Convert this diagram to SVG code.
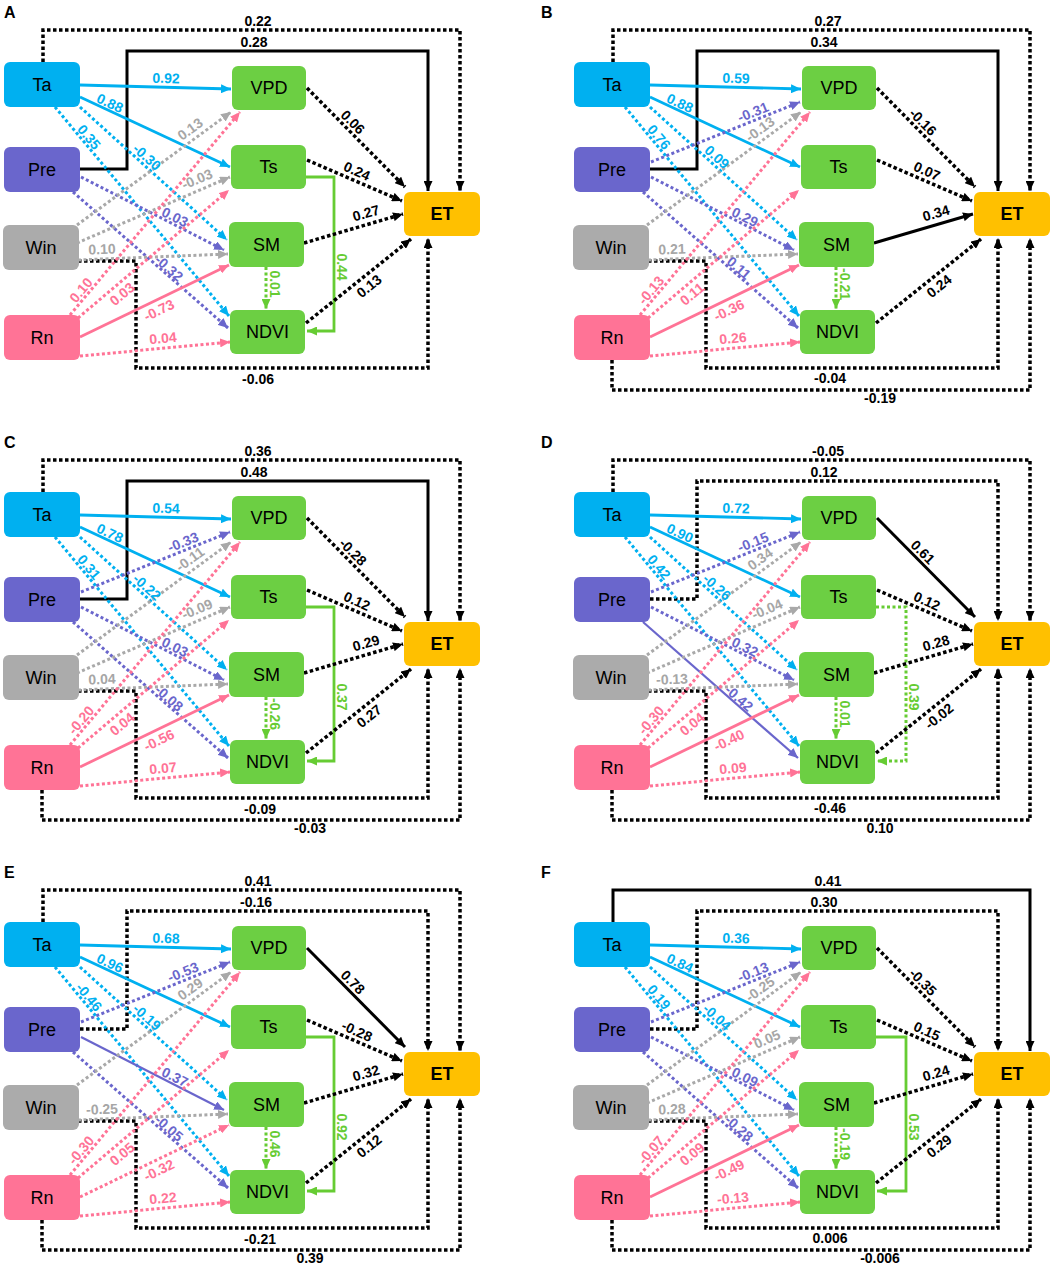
<svg xmlns="http://www.w3.org/2000/svg" width="1052" height="1265" viewBox="0 0 1052 1265">
<defs>
<style>
.nt{font-family:"Liberation Sans",Arial,sans-serif;font-size:18px;text-anchor:middle;fill:#000}
.et{font-weight:bold}
.ta{fill:#00B0F0}.pr{fill:#6A66CC}.wi{fill:#ABABAB}.rn{fill:#FF7396}.gn{fill:#6CCF43}.ev{fill:#FFC000}
.e{fill:none}
.cy{stroke:#00B0F0;marker-end:url(#mcy)}
.pu{stroke:#6A66CC;marker-end:url(#mpu)}
.gy{stroke:#A9A9A9;marker-end:url(#mgy)}
.pk{stroke:#FF7396;marker-end:url(#mpk)}
.gr{stroke:#66CC33;marker-end:url(#mgr)}
.bk{stroke:#000;marker-end:url(#mbk)}
.s{stroke-width:2.8}
.t2{stroke-width:2.2}
.d{stroke-width:3;stroke-dasharray:3 2.5}
.b{stroke-width:3.5;stroke-dasharray:3.5 2.5}
.sb{stroke-width:3}
.l{font-family:"Liberation Sans",Arial,sans-serif;font-weight:bold;font-size:14px;text-anchor:middle;dominant-baseline:central}
.lcy{fill:#00B0F0}.lpu{fill:#6A66CC}.lgy{fill:#A6A6A6}.lpk{fill:#FF7396}.lgr{fill:#66CC33}.lk{fill:#000}
.pl{font-family:"Liberation Sans",Arial,sans-serif;font-weight:bold;font-size:16px;fill:#000}
</style>
<marker id="mcy" markerUnits="userSpaceOnUse" markerWidth="11" markerHeight="9" refX="10" refY="4.5" orient="auto"><path d="M0,0L10,4.5L0,9z" fill="#00B0F0"/></marker>
<marker id="mpu" markerUnits="userSpaceOnUse" markerWidth="11" markerHeight="9" refX="10" refY="4.5" orient="auto"><path d="M0,0L10,4.5L0,9z" fill="#6A66CC"/></marker>
<marker id="mgy" markerUnits="userSpaceOnUse" markerWidth="11" markerHeight="9" refX="10" refY="4.5" orient="auto"><path d="M0,0L10,4.5L0,9z" fill="#A9A9A9"/></marker>
<marker id="mpk" markerUnits="userSpaceOnUse" markerWidth="11" markerHeight="9" refX="10" refY="4.5" orient="auto"><path d="M0,0L10,4.5L0,9z" fill="#FF7396"/></marker>
<marker id="mgr" markerUnits="userSpaceOnUse" markerWidth="11" markerHeight="9" refX="10" refY="4.5" orient="auto"><path d="M0,0L10,4.5L0,9z" fill="#66CC33"/></marker>
<marker id="mbk" markerUnits="userSpaceOnUse" markerWidth="11" markerHeight="9" refX="10" refY="4.5" orient="auto"><path d="M0,0L10,4.5L0,9z" fill="#000"/></marker>
</defs>
<rect width="1052" height="1265" fill="#fff"/>
<text class="pl" x="4" y="18">A</text>
<text class="pl" x="541" y="18">B</text>
<text class="pl" x="4" y="448">C</text>
<text class="pl" x="541" y="448">D</text>
<text class="pl" x="4" y="878">E</text>
<text class="pl" x="541" y="878">F</text>

<!-- PANEL A -->
<g id="panelA" transform="translate(0,0)">
<g id="A-connectors">
<path class="e bk b" d="M43,62L43,30L460,30L460,191"/>
<path class="e bk sb" d="M80,169L127,169L127,51L428,51L428,191"/>
<path class="e bk b" d="M78,261L136,261L136,368L428,368L428,238"/>
<path class="e cy s" d="M80,85L231,89"/>
<path class="e cy s" d="M80,97L230,167"/>
<path class="e cy d" d="M80,107L227,240"/>
<path class="e cy d" d="M55,107L229,316"/>
<path class="e pu d" d="M81,177L224,250"/>
<path class="e pu d" d="M73,192L228,328"/>
<path class="e gy d" d="M77,225L231,112"/>
<path class="e gy d" d="M77,243L230,177"/>
<path class="e gy d" d="M78,260L228,254"/>
<path class="e pk d" d="M70,315L240,112"/>
<path class="e pk d" d="M78,318L229,190"/>
<path class="e pk s" d="M80,337L229,265"/>
<path class="e pk d" d="M80,356L230,342"/>
<path class="e gr d" d="M266,267L266,309"/>
<path class="e gr s" d="M306,177L334,177L334,331L307,331"/>
<path class="e bk b" d="M307,88L405,187"/>
<path class="e bk b" d="M307,160L402,201"/>
<path class="e bk b" d="M304,243L403,214"/>
<path class="e bk b" d="M306,323L411,239"/>
<text class="l lcy" transform="translate(166,78) rotate(1.5)">0.92</text>
<text class="l lcy" transform="translate(110,103) rotate(25)">0.88</text>
<text class="l lcy" transform="translate(147,157) rotate(42)">-0.30</text>
<text class="l lcy" transform="translate(89,137) rotate(50)">0.35</text>
<text class="l lpu" transform="translate(175,217) rotate(27)">0.03</text>
<text class="l lpu" transform="translate(169,268) rotate(41)">-0.32</text>
<text class="l lgy" transform="translate(190,129) rotate(-36)">0.13</text>
<text class="l lgy" transform="translate(197,179) rotate(-23)">-0.03</text>
<text class="l lgy" transform="translate(102,249) rotate(-2)">0.10</text>
<text class="l lpk" transform="translate(81,290) rotate(-50)">0.10</text>
<text class="l lpk" transform="translate(122,294) rotate(-40)">0.03</text>
<text class="l lpk" transform="translate(159,310) rotate(-26)">-0.73</text>
<text class="l lpk" transform="translate(163,338) rotate(-5)">0.04</text>
<text class="l lgr" transform="translate(275,284) rotate(90)">0.01</text>
<text class="l lgr" transform="translate(342,267) rotate(90)">0.44</text>
<text class="l lk" transform="translate(353,122) rotate(45)">0.06</text>
<text class="l lk" transform="translate(357,171) rotate(24)">0.24</text>
<text class="l lk" transform="translate(366,213) rotate(-16)">0.27</text>
<text class="l lk" transform="translate(369,286) rotate(-39)">0.13</text>
<text class="l lk" transform="translate(258,21)">0.22</text>
<text class="l lk" transform="translate(254,42)">0.28</text>
<text class="l lk" transform="translate(258,379)">-0.06</text>
</g>
<g id="A-Ta"><rect class="ta" x="4" y="62" width="76" height="45" rx="6"/><text class="nt" x="42" y="91">Ta</text></g>
<g id="A-Pre"><rect class="pr" x="4" y="147" width="76" height="45" rx="6"/><text class="nt" x="42" y="176">Pre</text></g>
<g id="A-Win"><rect class="wi" x="3" y="225" width="76" height="45" rx="6"/><text class="nt" x="41" y="254">Win</text></g>
<g id="A-Rn"><rect class="rn" x="4" y="315" width="76" height="45" rx="6"/><text class="nt" x="42" y="344">Rn</text></g>
<g id="A-VPD"><rect class="gn" x="232" y="66" width="74" height="44" rx="6"/><text class="nt" x="269" y="94">VPD</text></g>
<g id="A-Ts"><rect class="gn" x="231" y="145" width="75" height="44" rx="6"/><text class="nt" x="268.5" y="173">Ts</text></g>
<g id="A-SM"><rect class="gn" x="229" y="222" width="75" height="45" rx="6"/><text class="nt" x="266.5" y="251">SM</text></g>
<g id="A-NDVI"><rect class="gn" x="230" y="310" width="75" height="44" rx="6"/><text class="nt" x="267.5" y="338">NDVI</text></g>
<g id="A-ET"><rect class="ev" x="404" y="192" width="76" height="44" rx="6"/><text class="nt et" x="442" y="220">ET</text></g>
</g>

<!-- PANEL B -->
<g id="panelB" transform="translate(570,0)">
<g id="B-connectors">
<path class="e bk b" d="M43,62L43,30L460,30L460,191"/>
<path class="e bk sb" d="M80,169L127,169L127,51L428,51L428,191"/>
<path class="e bk b" d="M78,261L136,261L136,368L428,368L428,238"/>
<path class="e bk b" d="M42,360L42,390L460,390L460,238"/>
<path class="e cy s" d="M80,85L231,89"/>
<path class="e cy s" d="M80,97L230,167"/>
<path class="e cy d" d="M80,107L227,240"/>
<path class="e cy d" d="M55,107L229,316"/>
<path class="e pu d" d="M81,162L230,102"/>
<path class="e pu d" d="M81,177L224,250"/>
<path class="e pu d" d="M73,192L228,328"/>
<path class="e gy d" d="M77,225L231,112"/>
<path class="e gy d" d="M78,260L228,254"/>
<path class="e pk d" d="M70,315L240,112"/>
<path class="e pk d" d="M78,318L229,190"/>
<path class="e pk s" d="M80,337L229,265"/>
<path class="e pk d" d="M80,356L230,342"/>
<path class="e gr d" d="M266,267L266,309"/>
<path class="e bk b" d="M307,88L405,187"/>
<path class="e bk b" d="M307,160L402,201"/>
<path class="e bk sb" d="M304,243L403,214"/>
<path class="e bk b" d="M306,323L411,239"/>
<text class="l lcy" transform="translate(166,78) rotate(1.5)">0.59</text>
<text class="l lcy" transform="translate(110,103) rotate(25)">0.88</text>
<text class="l lcy" transform="translate(147,157) rotate(42)">0.09</text>
<text class="l lcy" transform="translate(89,137) rotate(50)">0.76</text>
<text class="l lpu" transform="translate(183,112) rotate(-22)">-0.31</text>
<text class="l lpu" transform="translate(175,217) rotate(27)">0.29</text>
<text class="l lpu" transform="translate(169,268) rotate(41)">0.11</text>
<text class="l lgy" transform="translate(190,129) rotate(-36)">-0.13</text>
<text class="l lgy" transform="translate(102,249) rotate(-2)">0.21</text>
<text class="l lpk" transform="translate(81,290) rotate(-50)">-0.13</text>
<text class="l lpk" transform="translate(122,294) rotate(-40)">0.11</text>
<text class="l lpk" transform="translate(159,310) rotate(-26)">-0.36</text>
<text class="l lpk" transform="translate(163,338) rotate(-5)">0.26</text>
<text class="l lgr" transform="translate(275,284) rotate(90)">-0.21</text>
<text class="l lk" transform="translate(353,122) rotate(45)">-0.16</text>
<text class="l lk" transform="translate(357,171) rotate(24)">0.07</text>
<text class="l lk" transform="translate(366,213) rotate(-16)">0.34</text>
<text class="l lk" transform="translate(369,286) rotate(-39)">0.24</text>
<text class="l lk" transform="translate(258,21)">0.27</text>
<text class="l lk" transform="translate(254,42)">0.34</text>
<text class="l lk" transform="translate(260,378)">-0.04</text>
<text class="l lk" transform="translate(310,398)">-0.19</text>
</g>
<g id="B-Ta"><rect class="ta" x="4" y="62" width="76" height="45" rx="6"/><text class="nt" x="42" y="91">Ta</text></g>
<g id="B-Pre"><rect class="pr" x="4" y="147" width="76" height="45" rx="6"/><text class="nt" x="42" y="176">Pre</text></g>
<g id="B-Win"><rect class="wi" x="3" y="225" width="76" height="45" rx="6"/><text class="nt" x="41" y="254">Win</text></g>
<g id="B-Rn"><rect class="rn" x="4" y="315" width="76" height="45" rx="6"/><text class="nt" x="42" y="344">Rn</text></g>
<g id="B-VPD"><rect class="gn" x="232" y="66" width="74" height="44" rx="6"/><text class="nt" x="269" y="94">VPD</text></g>
<g id="B-Ts"><rect class="gn" x="231" y="145" width="75" height="44" rx="6"/><text class="nt" x="268.5" y="173">Ts</text></g>
<g id="B-SM"><rect class="gn" x="229" y="222" width="75" height="45" rx="6"/><text class="nt" x="266.5" y="251">SM</text></g>
<g id="B-NDVI"><rect class="gn" x="230" y="310" width="75" height="44" rx="6"/><text class="nt" x="267.5" y="338">NDVI</text></g>
<g id="B-ET"><rect class="ev" x="404" y="192" width="76" height="44" rx="6"/><text class="nt et" x="442" y="220">ET</text></g>
</g>

<!-- PANEL C -->
<g id="panelC" transform="translate(0,430)">
<g id="C-connectors">
<path class="e bk b" d="M43,62L43,30L460,30L460,191"/>
<path class="e bk sb" d="M80,169L127,169L127,51L428,51L428,191"/>
<path class="e bk b" d="M78,261L136,261L136,368L428,368L428,238"/>
<path class="e bk b" d="M42,360L42,390L460,390L460,238"/>
<path class="e cy s" d="M80,85L231,89"/>
<path class="e cy s" d="M80,97L230,167"/>
<path class="e cy d" d="M80,107L227,240"/>
<path class="e cy d" d="M55,107L229,316"/>
<path class="e pu d" d="M81,162L230,102"/>
<path class="e pu d" d="M81,177L224,250"/>
<path class="e pu d" d="M73,192L228,328"/>
<path class="e gy d" d="M77,225L231,112"/>
<path class="e gy d" d="M77,243L230,177"/>
<path class="e gy d" d="M78,260L228,254"/>
<path class="e pk d" d="M70,315L240,112"/>
<path class="e pk d" d="M78,318L229,190"/>
<path class="e pk s" d="M80,337L229,265"/>
<path class="e pk d" d="M80,356L230,342"/>
<path class="e gr d" d="M266,267L266,309"/>
<path class="e gr s" d="M306,177L334,177L334,331L307,331"/>
<path class="e bk b" d="M307,88L405,187"/>
<path class="e bk b" d="M307,160L402,201"/>
<path class="e bk b" d="M304,243L403,214"/>
<path class="e bk b" d="M306,323L411,239"/>
<text class="l lcy" transform="translate(166,78) rotate(1.5)">0.54</text>
<text class="l lcy" transform="translate(110,103) rotate(25)">0.78</text>
<text class="l lcy" transform="translate(147,157) rotate(42)">-0.22</text>
<text class="l lcy" transform="translate(89,137) rotate(50)">0.31</text>
<text class="l lpu" transform="translate(183,112) rotate(-22)">-0.33</text>
<text class="l lpu" transform="translate(175,217) rotate(27)">0.03</text>
<text class="l lpu" transform="translate(169,268) rotate(41)">-0.08</text>
<text class="l lgy" transform="translate(190,129) rotate(-36)">-0.11</text>
<text class="l lgy" transform="translate(197,179) rotate(-23)">-0.09</text>
<text class="l lgy" transform="translate(102,249) rotate(-2)">0.04</text>
<text class="l lpk" transform="translate(81,290) rotate(-50)">-0.20</text>
<text class="l lpk" transform="translate(122,294) rotate(-40)">0.04</text>
<text class="l lpk" transform="translate(159,310) rotate(-26)">-0.56</text>
<text class="l lpk" transform="translate(163,338) rotate(-5)">0.07</text>
<text class="l lgr" transform="translate(275,284) rotate(90)">-0.26</text>
<text class="l lgr" transform="translate(342,267) rotate(90)">0.37</text>
<text class="l lk" transform="translate(353,122) rotate(45)">-0.28</text>
<text class="l lk" transform="translate(357,171) rotate(24)">0.12</text>
<text class="l lk" transform="translate(366,213) rotate(-16)">0.29</text>
<text class="l lk" transform="translate(369,286) rotate(-39)">0.27</text>
<text class="l lk" transform="translate(258,21)">0.36</text>
<text class="l lk" transform="translate(254,42)">0.48</text>
<text class="l lk" transform="translate(260,379)">-0.09</text>
<text class="l lk" transform="translate(310,398)">-0.03</text>
</g>
<g id="C-Ta"><rect class="ta" x="4" y="62" width="76" height="45" rx="6"/><text class="nt" x="42" y="91">Ta</text></g>
<g id="C-Pre"><rect class="pr" x="4" y="147" width="76" height="45" rx="6"/><text class="nt" x="42" y="176">Pre</text></g>
<g id="C-Win"><rect class="wi" x="3" y="225" width="76" height="45" rx="6"/><text class="nt" x="41" y="254">Win</text></g>
<g id="C-Rn"><rect class="rn" x="4" y="315" width="76" height="45" rx="6"/><text class="nt" x="42" y="344">Rn</text></g>
<g id="C-VPD"><rect class="gn" x="232" y="66" width="74" height="44" rx="6"/><text class="nt" x="269" y="94">VPD</text></g>
<g id="C-Ts"><rect class="gn" x="231" y="145" width="75" height="44" rx="6"/><text class="nt" x="268.5" y="173">Ts</text></g>
<g id="C-SM"><rect class="gn" x="229" y="222" width="75" height="45" rx="6"/><text class="nt" x="266.5" y="251">SM</text></g>
<g id="C-NDVI"><rect class="gn" x="230" y="310" width="75" height="44" rx="6"/><text class="nt" x="267.5" y="338">NDVI</text></g>
<g id="C-ET"><rect class="ev" x="404" y="192" width="76" height="44" rx="6"/><text class="nt et" x="442" y="220">ET</text></g>
</g>

<!-- PANEL D -->
<g id="panelD" transform="translate(570,430)">
<g id="D-connectors">
<path class="e bk b" d="M43,62L43,30L460,30L460,191"/>
<path class="e bk b" d="M80,169L127,169L127,51L428,51L428,191"/>
<path class="e bk b" d="M78,261L136,261L136,368L428,368L428,238"/>
<path class="e bk b" d="M42,360L42,390L460,390L460,238"/>
<path class="e cy s" d="M80,85L231,89"/>
<path class="e cy s" d="M80,97L230,167"/>
<path class="e cy d" d="M80,107L227,240"/>
<path class="e cy d" d="M55,107L229,316"/>
<path class="e pu d" d="M81,162L230,102"/>
<path class="e pu d" d="M81,177L224,250"/>
<path class="e pu t2" d="M73,192L228,328"/>
<path class="e gy d" d="M77,225L231,112"/>
<path class="e gy d" d="M77,243L230,177"/>
<path class="e gy d" d="M78,260L228,254"/>
<path class="e pk d" d="M70,315L240,112"/>
<path class="e pk d" d="M78,318L229,190"/>
<path class="e pk s" d="M80,337L229,265"/>
<path class="e pk d" d="M80,356L230,342"/>
<path class="e gr d" d="M266,267L266,309"/>
<path class="e gr d" d="M306,177L336,177L336,331L307,331"/>
<path class="e bk sb" d="M307,88L405,187"/>
<path class="e bk b" d="M307,160L402,201"/>
<path class="e bk b" d="M304,243L403,214"/>
<path class="e bk b" d="M306,323L411,239"/>
<text class="l lcy" transform="translate(166,78) rotate(1.5)">0.72</text>
<text class="l lcy" transform="translate(110,103) rotate(25)">0.90</text>
<text class="l lcy" transform="translate(147,157) rotate(42)">-0.26</text>
<text class="l lcy" transform="translate(89,137) rotate(50)">0.42</text>
<text class="l lpu" transform="translate(183,112) rotate(-22)">-0.15</text>
<text class="l lpu" transform="translate(175,217) rotate(27)">0.32</text>
<text class="l lpu" transform="translate(169,268) rotate(41)">-0.42</text>
<text class="l lgy" transform="translate(190,129) rotate(-36)">0.34</text>
<text class="l lgy" transform="translate(197,179) rotate(-23)">-0.04</text>
<text class="l lgy" transform="translate(102,249) rotate(-2)">-0.13</text>
<text class="l lpk" transform="translate(81,290) rotate(-50)">-0.30</text>
<text class="l lpk" transform="translate(122,294) rotate(-40)">0.04</text>
<text class="l lpk" transform="translate(159,310) rotate(-26)">-0.40</text>
<text class="l lpk" transform="translate(163,338) rotate(-5)">0.09</text>
<text class="l lgr" transform="translate(275,284) rotate(90)">0.01</text>
<text class="l lgr" transform="translate(344,267) rotate(90)">0.39</text>
<text class="l lk" transform="translate(353,122) rotate(45)">0.61</text>
<text class="l lk" transform="translate(357,171) rotate(24)">0.12</text>
<text class="l lk" transform="translate(366,213) rotate(-16)">0.28</text>
<text class="l lk" transform="translate(369,286) rotate(-39)">-0.02</text>
<text class="l lk" transform="translate(258,21)">-0.05</text>
<text class="l lk" transform="translate(254,42)">0.12</text>
<text class="l lk" transform="translate(260,378)">-0.46</text>
<text class="l lk" transform="translate(310,398)">0.10</text>
</g>
<g id="D-Ta"><rect class="ta" x="4" y="62" width="76" height="45" rx="6"/><text class="nt" x="42" y="91">Ta</text></g>
<g id="D-Pre"><rect class="pr" x="4" y="147" width="76" height="45" rx="6"/><text class="nt" x="42" y="176">Pre</text></g>
<g id="D-Win"><rect class="wi" x="3" y="225" width="76" height="45" rx="6"/><text class="nt" x="41" y="254">Win</text></g>
<g id="D-Rn"><rect class="rn" x="4" y="315" width="76" height="45" rx="6"/><text class="nt" x="42" y="344">Rn</text></g>
<g id="D-VPD"><rect class="gn" x="232" y="66" width="74" height="44" rx="6"/><text class="nt" x="269" y="94">VPD</text></g>
<g id="D-Ts"><rect class="gn" x="231" y="145" width="75" height="44" rx="6"/><text class="nt" x="268.5" y="173">Ts</text></g>
<g id="D-SM"><rect class="gn" x="229" y="222" width="75" height="45" rx="6"/><text class="nt" x="266.5" y="251">SM</text></g>
<g id="D-NDVI"><rect class="gn" x="230" y="310" width="75" height="44" rx="6"/><text class="nt" x="267.5" y="338">NDVI</text></g>
<g id="D-ET"><rect class="ev" x="404" y="192" width="76" height="44" rx="6"/><text class="nt et" x="442" y="220">ET</text></g>
</g>

<!-- PANEL E -->
<g id="panelE" transform="translate(0,860)">
<g id="E-connectors">
<path class="e bk b" d="M43,62L43,30L460,30L460,191"/>
<path class="e bk b" d="M80,169L127,169L127,51L428,51L428,191"/>
<path class="e bk b" d="M78,261L136,261L136,368L428,368L428,238"/>
<path class="e bk b" d="M42,360L42,390L460,390L460,238"/>
<path class="e cy s" d="M80,85L231,89"/>
<path class="e cy s" d="M80,97L230,167"/>
<path class="e cy d" d="M80,107L227,240"/>
<path class="e cy d" d="M55,107L229,316"/>
<path class="e pu d" d="M81,162L230,102"/>
<path class="e pu t2" d="M81,177L224,250"/>
<path class="e pu d" d="M73,192L228,328"/>
<path class="e gy d" d="M77,225L231,112"/>
<path class="e gy d" d="M78,260L228,254"/>
<path class="e pk d" d="M70,315L240,112"/>
<path class="e pk d" d="M78,318L229,190"/>
<path class="e pk d" d="M80,337L229,265"/>
<path class="e pk d" d="M80,356L230,342"/>
<path class="e gr d" d="M266,267L266,309"/>
<path class="e gr s" d="M306,177L334,177L334,331L307,331"/>
<path class="e bk sb" d="M307,88L405,187"/>
<path class="e bk b" d="M307,160L402,201"/>
<path class="e bk b" d="M304,243L403,214"/>
<path class="e bk b" d="M306,323L411,239"/>
<text class="l lcy" transform="translate(166,78) rotate(1.5)">0.68</text>
<text class="l lcy" transform="translate(110,103) rotate(25)">0.96</text>
<text class="l lcy" transform="translate(147,157) rotate(42)">-0.19</text>
<text class="l lcy" transform="translate(89,137) rotate(50)">-0.46</text>
<text class="l lpu" transform="translate(183,112) rotate(-22)">-0.53</text>
<text class="l lpu" transform="translate(175,217) rotate(27)">0.37</text>
<text class="l lpu" transform="translate(169,268) rotate(41)">-0.05</text>
<text class="l lgy" transform="translate(190,129) rotate(-36)">0.29</text>
<text class="l lgy" transform="translate(102,249) rotate(-2)">-0.25</text>
<text class="l lpk" transform="translate(81,290) rotate(-50)">-0.30</text>
<text class="l lpk" transform="translate(122,294) rotate(-40)">0.05</text>
<text class="l lpk" transform="translate(159,310) rotate(-26)">-0.32</text>
<text class="l lpk" transform="translate(163,338) rotate(-5)">0.22</text>
<text class="l lgr" transform="translate(275,284) rotate(90)">0.46</text>
<text class="l lgr" transform="translate(342,267) rotate(90)">0.92</text>
<text class="l lk" transform="translate(353,122) rotate(45)">0.78</text>
<text class="l lk" transform="translate(357,171) rotate(24)">-0.28</text>
<text class="l lk" transform="translate(366,213) rotate(-16)">0.32</text>
<text class="l lk" transform="translate(369,286) rotate(-39)">0.12</text>
<text class="l lk" transform="translate(258,21)">0.41</text>
<text class="l lk" transform="translate(256,42)">-0.16</text>
<text class="l lk" transform="translate(260,379)">-0.21</text>
<text class="l lk" transform="translate(310,398)">0.39</text>
</g>
<g id="E-Ta"><rect class="ta" x="4" y="62" width="76" height="45" rx="6"/><text class="nt" x="42" y="91">Ta</text></g>
<g id="E-Pre"><rect class="pr" x="4" y="147" width="76" height="45" rx="6"/><text class="nt" x="42" y="176">Pre</text></g>
<g id="E-Win"><rect class="wi" x="3" y="225" width="76" height="45" rx="6"/><text class="nt" x="41" y="254">Win</text></g>
<g id="E-Rn"><rect class="rn" x="4" y="315" width="76" height="45" rx="6"/><text class="nt" x="42" y="344">Rn</text></g>
<g id="E-VPD"><rect class="gn" x="232" y="66" width="74" height="44" rx="6"/><text class="nt" x="269" y="94">VPD</text></g>
<g id="E-Ts"><rect class="gn" x="231" y="145" width="75" height="44" rx="6"/><text class="nt" x="268.5" y="173">Ts</text></g>
<g id="E-SM"><rect class="gn" x="229" y="222" width="75" height="45" rx="6"/><text class="nt" x="266.5" y="251">SM</text></g>
<g id="E-NDVI"><rect class="gn" x="230" y="310" width="75" height="44" rx="6"/><text class="nt" x="267.5" y="338">NDVI</text></g>
<g id="E-ET"><rect class="ev" x="404" y="192" width="76" height="44" rx="6"/><text class="nt et" x="442" y="220">ET</text></g>
</g>

<!-- PANEL F -->
<g id="panelF" transform="translate(570,860)">
<g id="F-connectors">
<path class="e bk sb" d="M43,62L43,30L460,30L460,191"/>
<path class="e bk b" d="M80,169L127,169L127,51L428,51L428,191"/>
<path class="e bk b" d="M78,261L136,261L136,368L428,368L428,238"/>
<path class="e bk b" d="M42,360L42,390L460,390L460,238"/>
<path class="e cy s" d="M80,85L231,89"/>
<path class="e cy s" d="M80,97L230,167"/>
<path class="e cy d" d="M80,107L227,240"/>
<path class="e cy d" d="M55,107L229,316"/>
<path class="e pu d" d="M81,162L230,102"/>
<path class="e pu d" d="M81,177L224,250"/>
<path class="e pu d" d="M73,192L228,328"/>
<path class="e gy d" d="M77,225L231,112"/>
<path class="e gy d" d="M77,243L230,177"/>
<path class="e gy d" d="M78,260L228,254"/>
<path class="e pk d" d="M70,315L240,112"/>
<path class="e pk d" d="M78,318L229,190"/>
<path class="e pk s" d="M80,337L229,265"/>
<path class="e pk d" d="M80,356L230,342"/>
<path class="e gr d" d="M266,267L266,309"/>
<path class="e gr s" d="M306,177L336,177L336,331L307,331"/>
<path class="e bk b" d="M307,88L405,187"/>
<path class="e bk b" d="M307,160L402,201"/>
<path class="e bk b" d="M304,243L403,214"/>
<path class="e bk b" d="M306,323L411,239"/>
<text class="l lcy" transform="translate(166,78) rotate(1.5)">0.36</text>
<text class="l lcy" transform="translate(110,103) rotate(25)">0.84</text>
<text class="l lcy" transform="translate(147,157) rotate(42)">-0.04</text>
<text class="l lcy" transform="translate(89,137) rotate(50)">0.19</text>
<text class="l lpu" transform="translate(183,112) rotate(-22)">-0.13</text>
<text class="l lpu" transform="translate(175,217) rotate(27)">0.09</text>
<text class="l lpu" transform="translate(169,268) rotate(41)">-0.28</text>
<text class="l lgy" transform="translate(190,129) rotate(-36)">-0.25</text>
<text class="l lgy" transform="translate(197,179) rotate(-23)">0.05</text>
<text class="l lgy" transform="translate(102,249) rotate(-2)">0.28</text>
<text class="l lpk" transform="translate(81,290) rotate(-50)">-0.07</text>
<text class="l lpk" transform="translate(122,294) rotate(-40)">0.09</text>
<text class="l lpk" transform="translate(159,310) rotate(-26)">-0.49</text>
<text class="l lpk" transform="translate(163,338) rotate(-5)">-0.13</text>
<text class="l lgr" transform="translate(275,284) rotate(90)">-0.19</text>
<text class="l lgr" transform="translate(344,267) rotate(90)">0.53</text>
<text class="l lk" transform="translate(353,122) rotate(45)">-0.35</text>
<text class="l lk" transform="translate(357,171) rotate(24)">0.15</text>
<text class="l lk" transform="translate(366,213) rotate(-16)">0.24</text>
<text class="l lk" transform="translate(369,286) rotate(-39)">0.29</text>
<text class="l lk" transform="translate(258,21)">0.41</text>
<text class="l lk" transform="translate(254,42)">0.30</text>
<text class="l lk" transform="translate(260,378)">0.006</text>
<text class="l lk" transform="translate(310,398)">-0.006</text>
</g>
<g id="F-Ta"><rect class="ta" x="4" y="62" width="76" height="45" rx="6"/><text class="nt" x="42" y="91">Ta</text></g>
<g id="F-Pre"><rect class="pr" x="4" y="147" width="76" height="45" rx="6"/><text class="nt" x="42" y="176">Pre</text></g>
<g id="F-Win"><rect class="wi" x="3" y="225" width="76" height="45" rx="6"/><text class="nt" x="41" y="254">Win</text></g>
<g id="F-Rn"><rect class="rn" x="4" y="315" width="76" height="45" rx="6"/><text class="nt" x="42" y="344">Rn</text></g>
<g id="F-VPD"><rect class="gn" x="232" y="66" width="74" height="44" rx="6"/><text class="nt" x="269" y="94">VPD</text></g>
<g id="F-Ts"><rect class="gn" x="231" y="145" width="75" height="44" rx="6"/><text class="nt" x="268.5" y="173">Ts</text></g>
<g id="F-SM"><rect class="gn" x="229" y="222" width="75" height="45" rx="6"/><text class="nt" x="266.5" y="251">SM</text></g>
<g id="F-NDVI"><rect class="gn" x="230" y="310" width="75" height="44" rx="6"/><text class="nt" x="267.5" y="338">NDVI</text></g>
<g id="F-ET"><rect class="ev" x="404" y="192" width="76" height="44" rx="6"/><text class="nt et" x="442" y="220">ET</text></g>
</g>
</svg>
